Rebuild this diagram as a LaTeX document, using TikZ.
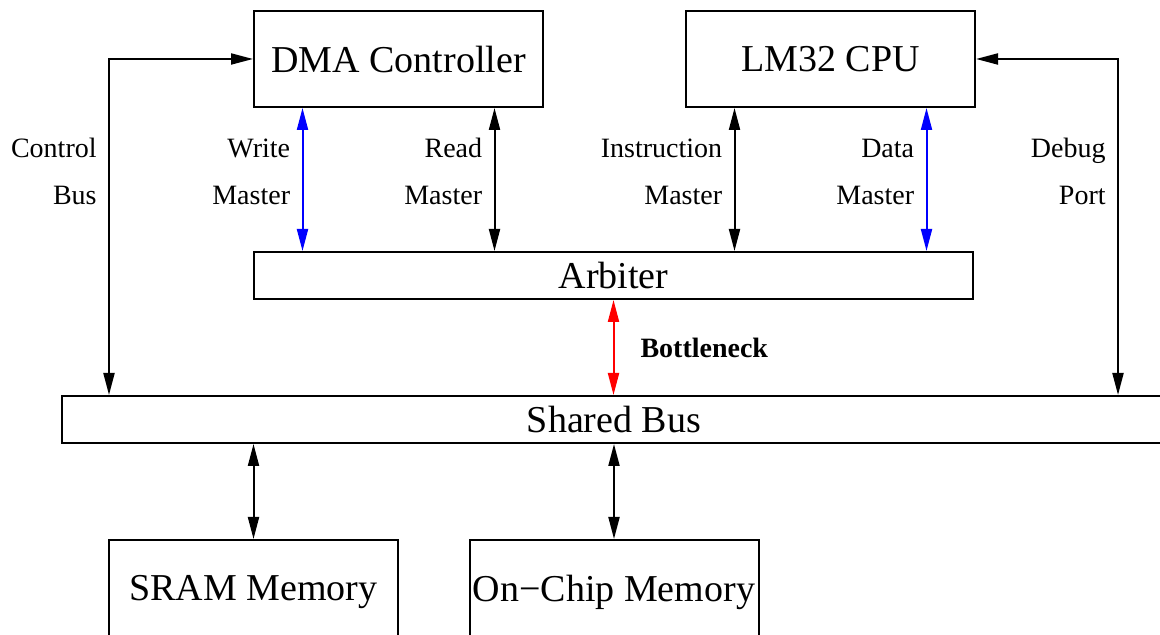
\documentclass[tikz,border=0pt]{standalone}
\usepackage{fontspec}
\setmainfont{Liberation Serif}
\usepackage{tikz}
\usetikzlibrary{arrows.meta, positioning, calc}
\tikzset{
    unit_box/.style={draw, line width=1pt, minimum width=144.5pt, minimum height=48pt, inner sep=0pt, font=\fontsize{19}{23}\selectfont, text depth=0pt},
    bus_box/.style={draw, line width=1pt, minimum height=23.5pt, inner sep=0pt, font=\fontsize{19}{23}\selectfont, text depth=0pt},
    link/.style={{Triangle[length=11pt,width=5.5pt]}-{Triangle[length=11pt,width=5.5pt]}, line width=1pt},
    port_label/.style={align=right, anchor=east, inner sep=0pt, font=\fontsize{14}{23.5}\selectfont}
}

\begin{document}
\begin{tikzpicture}[x=25pt, y=25pt]
    \useasboundingbox (0,0) rectangle (23.2,12.7);
    \clip (0,0) rectangle (23.2,12.7);
    % Masters
    \node[unit_box] (dma) at (7.97,11.52) {DMA Controller};
    \node[unit_box] (cpu) at (16.61,11.52) {LM32 CPU};
    % Arbiter and shared bus
    \node[bus_box, minimum width=359.5pt] (arb) at (12.27,7.19) {Arbiter};
    \node[bus_box, minimum width=552pt] (bus) at (12.28,4.31) {Shared Bus};
    % Slaves
    \node[unit_box] (sram) at (5.07,0.94) {SRAM Memory};
    \node[unit_box] (ocm) at (12.28,0.94) {On−Chip Memory};
    % Master ports
    \coordinate (wm) at ([xshift=-48pt]dma.south);
    \coordinate (rm) at ([xshift=48pt]dma.south);
    \coordinate (im) at ([xshift=-48pt]cpu.south);
    \coordinate (dm) at ([xshift=48pt]cpu.south);
    \coordinate (cb) at (2.18,0);
    \coordinate (dp) at (22.36,0);
    \coordinate (row) at (0,9.27);
    \draw[link, blue] (wm) -- (wm |- arb.north);
    \draw[link] (rm) -- (rm |- arb.north);
    \draw[link] (im) -- (im |- arb.north);
    \draw[link, blue] (dm) -- (dm |- arb.north);
    % Side channels
    \draw[link] (dma.west) -| (cb |- bus.north);
    \draw[link] (cpu.east) -| (dp |- bus.north);
    % Bus to arbiter and memories
    \draw[link, red] (arb.south) -- (arb.south |- bus.north)
        node[midway, right=13pt, inner sep=0pt, text=black, font=\fontsize{14}{17}\selectfont\bfseries] (bn) {Bottleneck};
    \draw[link] (sram.north) -- (sram.north |- bus.south);
    \draw[link] (ocm.north) -- (ocm.north |- bus.south);
    % Labels
    \node[port_label] (cb_lbl) at ([xshift=-6pt]cb |- row) {Control\\Bus};
    \node[port_label] (wm_lbl) at ([xshift=-6pt]wm |- row) {Write\\Master};
    \node[port_label] (rm_lbl) at ([xshift=-6pt]rm |- row) {Read\\Master};
    \node[port_label] (im_lbl) at ([xshift=-6pt]im |- row) {Instruction\\Master};
    \node[port_label] (dm_lbl) at ([xshift=-6pt]dm |- row) {Data\\Master};
    \node[port_label] (dp_lbl) at ([xshift=-6pt]dp |- row) {Debug\\Port};
\end{tikzpicture}
\end{document}
